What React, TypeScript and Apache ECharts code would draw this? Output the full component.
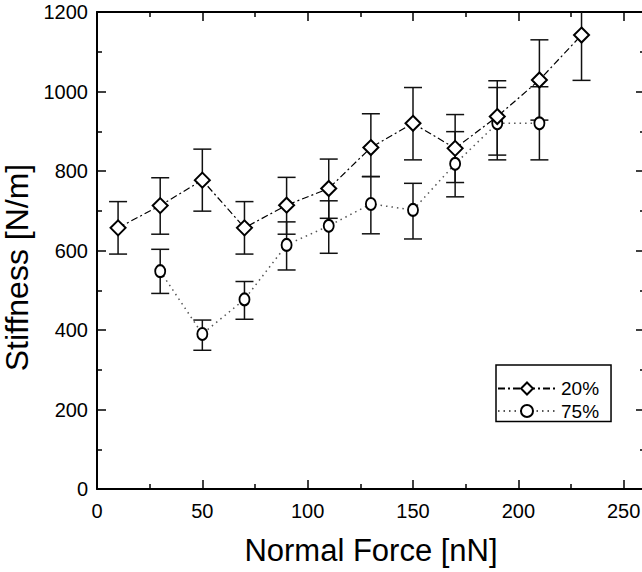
import React, { useEffect, useRef } from "react";
import * as echarts from "echarts";

// ---- Data ----
const forces20 = [10, 30, 50, 70, 90, 110, 130, 150, 170, 190, 210, 230];
const stiff20 = [657, 713, 777, 657, 714, 756, 859, 920, 857, 937, 1029, 1142];
const low20 = [591, 641, 699, 591, 641, 681, 786, 828, 771, 840, 928, 1028];
const high20 = [723, 783, 855, 723, 784, 830, 944, 1010, 942, 1027, 1130, 1256];

const forces75 = [30, 50, 70, 90, 110, 130, 150, 170, 190, 210];
const stiff75 = [548, 390, 477, 614, 662, 717, 702, 818, 920, 920];
const low75 = [492, 349, 427, 551, 593, 642, 629, 735, 828, 828];
const high75 = [603, 425, 522, 672, 725, 786, 769, 899, 1010, 1012];

const seriesNames = ["20%", "75%"];
const xTitle = "Normal Force [nN]";
const yTitle = "Stiffness [N/m]";

const X_MAX = 300; // axis extends beyond the visible frame (frame cut at ~260)
const X_LAST_LABEL = 250;
const Y_MIN = 0;
const Y_MAX = 1200;

const FONT = "'Liberation Sans', Arial, Helvetica, sans-serif";

export default function App() {
  const ref = useRef<HTMLDivElement>(null);

  useEffect(() => {
    if (!ref.current) return;
    const chart = echarts.init(ref.current, undefined, { renderer: "svg" });

    const errData = (xs: number[], lo: number[], hi: number[]) =>
      xs.map((x, i) => [x, lo[i], hi[i]]);

    const errRender = (params: any, api: any) => {
      const x = api.value(0);
      const lo = api.value(1);
      const hiRaw = api.value(2);
      const clipped = hiRaw > Y_MAX;
      const hi = Math.min(hiRaw, Y_MAX);
      const pLo = api.coord([x, lo]);
      const pHi = api.coord([x, hi]);
      const half = 9;
      const style = { stroke: "#111", lineWidth: 1.5 };
      const children: any[] = [
        { type: "line", shape: { x1: pLo[0], y1: pLo[1], x2: pHi[0], y2: pHi[1] }, style },
        { type: "line", shape: { x1: pLo[0] - half, y1: pLo[1], x2: pLo[0] + half, y2: pLo[1] }, style },
      ];
      if (!clipped) {
        children.push({
          type: "line",
          shape: { x1: pHi[0] - half, y1: pHi[1], x2: pHi[0] + half, y2: pHi[1] },
          style,
        });
      }
      return { type: "group", children };
    };

    const tickStyle = { color: "#000", width: 1.5 };
    const axisLineStyle = { color: "#000", width: 2 };

    const commonX = {
      type: "value" as const,
      min: 0,
      max: X_MAX,
      interval: 50,
      splitLine: { show: false },
      axisLine: { show: true, onZero: false, lineStyle: axisLineStyle },
      axisTick: { show: true, inside: true, length: 9, lineStyle: tickStyle },
      minorTick: { show: true, splitNumber: 2, length: 5, lineStyle: tickStyle },
    };
    const commonY = {
      type: "value" as const,
      min: Y_MIN,
      max: Y_MAX,
      interval: 200,
      splitLine: { show: false },
      axisLine: { show: true, onZero: false, lineStyle: axisLineStyle },
      axisTick: { show: true, inside: true, length: 9, lineStyle: tickStyle },
      minorTick: { show: true, splitNumber: 2, length: 5, lineStyle: tickStyle },
    };

    const ellipse = "path://M10,0A10,12,0,1,1,10,24A10,12,0,1,1,10,0Z";

    chart.setOption({
      animation: false,
      backgroundColor: "#fff",
      textStyle: { fontFamily: FONT },
      grid: { left: 97, right: -87, top: 12, bottom: 83, outerBoundsMode: "none" } as any,
      legend: {
        data: seriesNames,
        orient: "vertical",
        left: 496,
        top: 365,
        itemWidth: 58,
        itemHeight: 15,
        itemGap: 3.5,
        padding: [14, 12, 1, 1],
        backgroundColor: "#fff",
        borderColor: "#000",
        borderWidth: 1.5,
        borderRadius: 0,
        textStyle: { fontSize: 19, color: "#000", fontFamily: FONT },
      },
      xAxis: [
        {
          ...commonX,
          position: "bottom",
          axisLabel: {
            show: true,
            fontSize: 20,
            color: "#000",
            margin: 12,
            fontFamily: FONT,
            formatter: (v: number) => (v > X_LAST_LABEL ? "" : String(v)),
          },
          name: xTitle,
          nameLocation: "middle",
          nameGap: 46,
          nameTextStyle: {
            fontSize: 31,
            color: "#000",
            fontFamily: FONT,
            padding: [0, 84, 0, 0],
          },
        },
        {
          ...commonX,
          position: "top",
          axisLabel: { show: false },
        },
      ],
      yAxis: [
        {
          ...commonY,
          position: "left",
          axisLabel: {
            show: true,
            fontSize: 20,
            color: "#000",
            margin: 9,
            fontFamily: FONT,
            formatter: (v: number) => String(v),
          },
          name: yTitle,
          nameLocation: "middle",
          nameGap: 39,
          nameTextStyle: {
            fontSize: 32,
            color: "#000",
            fontFamily: FONT,
            padding: [0, 34, 0, 0],
          },
        },
        {
          ...commonY,
          position: "right",
          offset: -84,
          axisLabel: { show: false },
        },
      ],
      series: [
        {
          name: "err20",
          type: "custom",
          xAxisIndex: 0,
          yAxisIndex: 0,
          renderItem: errRender,
          data: errData(forces20, low20, high20),
          encode: { x: 0, y: [1, 2] },
          z: 1,
          silent: true,
        },
        {
          name: "err75",
          type: "custom",
          xAxisIndex: 0,
          yAxisIndex: 0,
          renderItem: errRender,
          data: errData(forces75, low75, high75),
          encode: { x: 0, y: [1, 2] },
          z: 1,
          silent: true,
        },
        {
          name: seriesNames[1],
          type: "line",
          xAxisIndex: 0,
          yAxisIndex: 0,
          data: forces75.map((x, i) => [x, stiff75[i]]),
          symbol: ellipse,
          symbolSize: [10, 12],
          showAllSymbol: true,
          lineStyle: { color: "#555", width: 1.5, type: [1.5, 4] },
          itemStyle: { color: "#fff", borderColor: "#000", borderWidth: 2 },
          z: 3,
        },
        {
          name: seriesNames[0],
          type: "line",
          xAxisIndex: 0,
          yAxisIndex: 0,
          data: forces20.map((x, i) => [x, stiff20[i]]),
          symbol: "diamond",
          symbolSize: 15,
          showAllSymbol: true,
          lineStyle: { color: "#000", width: 1.2, type: [7, 3, 2, 3] },
          itemStyle: { color: "#fff", borderColor: "#000", borderWidth: 2 },
          z: 4,
        },
      ],
    });

    return () => chart.dispose();
  }, []);

  return (
    <div
      ref={ref}
      style={{ position: "fixed", left: 0, top: 0, width: 642, height: 572, background: "#fff" }}
    />
  );
}
